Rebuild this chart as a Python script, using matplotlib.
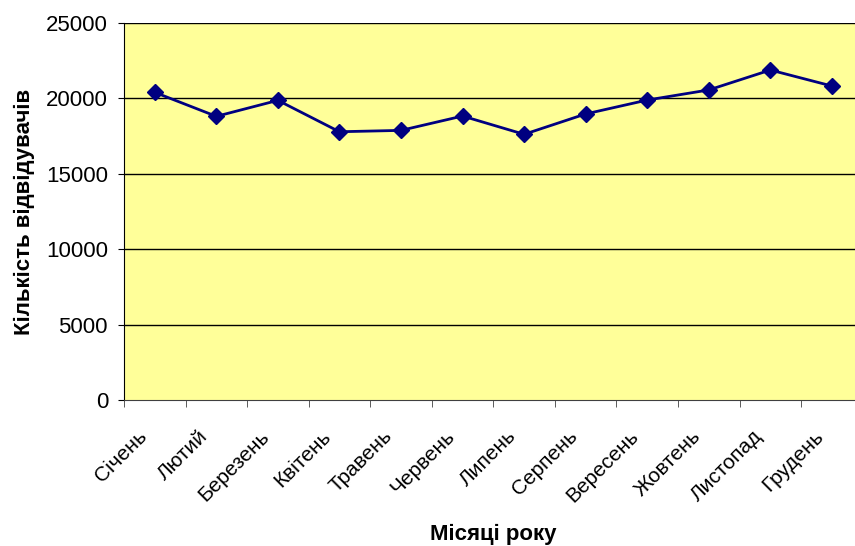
import matplotlib.pyplot as plt
from matplotlib.transforms import ScaledTranslation

plt.rcParams['font.family'] = ['Liberation Sans', 'DejaVu Sans']

months = ['Січень', 'Лютий', 'Березень', 'Квітень', 'Травень', 'Червень',
          'Липень', 'Серпень', 'Вересень', 'Жовтень', 'Листопад', 'Грудень']
visitors = [20400, 18810, 19870, 17790, 17880, 18830,
            17620, 18970, 19890, 20560, 21880, 20820]
y_ticks = [0, 5000, 10000, 15000, 20000, 25000]

fig = plt.figure(figsize=(8.55, 5.46), dpi=100)
ax = fig.add_axes([0.145, 0.267, 0.864, 0.691])
ax.set_facecolor('#FFFF99')

x = range(len(months))
ax.plot(x, visitors, color='#000080', linewidth=2, marker='D',
        markersize=8, zorder=3)

ax.set_ylim(0, 25000)
ax.set_xlim(-0.5, len(months) - 0.5)
ax.set_yticks(y_ticks)
ax.set_yticklabels([str(v) for v in y_ticks], fontsize=16)
for v in y_ticks[1:]:
    ax.axhline(v, color='black', linewidth=1, zorder=1)

# category labels in the middle, tick marks on the boundaries
ax.set_xticks(list(x))
ax.set_xticklabels(months, rotation=45, ha='right', rotation_mode='anchor',
                   fontsize=15)
ax.tick_params(axis='x', which='major', length=0, pad=19)
shift = ScaledTranslation(-13 / 72, 0, fig.dpi_scale_trans)
for lbl in ax.get_xticklabels():
    lbl.set_transform(lbl.get_transform() + shift)
ax.set_xticks([i - 0.5 for i in range(len(months) + 1)], minor=True)
ax.tick_params(axis='x', which='minor', length=5, color='#404040')
ax.tick_params(axis='y', length=4.5, pad=7)

for side in ['top', 'right']:
    ax.spines[side].set_visible(False)
ax.spines['left'].set_color('black')
ax.spines['bottom'].set_color('#404040')

ax.set_ylabel('Кількість відвідувачів', fontsize=16, fontweight='bold',
              labelpad=8)
ax.set_xlabel('Місяці року', fontsize=16, fontweight='bold')
ax.xaxis.set_label_coords(0.5, -0.328)

fig.savefig('out.png', dpi=100)
